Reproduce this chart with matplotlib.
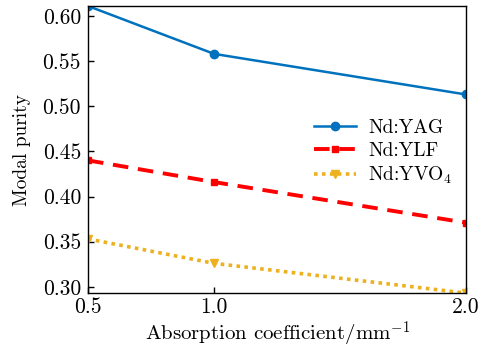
import matplotlib
matplotlib.use("Agg")
import matplotlib.pyplot as plt

# Modal purity versus absorption coefficient for three gain media
absorption = [0.5, 1.0, 2.0]
purity_yag = [0.611, 0.558, 0.513]
purity_ylf = [0.440, 0.416, 0.371]
purity_yvo4 = [0.353, 0.326, 0.293]
labels = ["Nd:YAG", "Nd:YLF", "Nd:YVO$_4$"]
x_ticks = [0.5, 1.0, 2.0]
y_ticks = [0.30, 0.35, 0.40, 0.45, 0.50, 0.55, 0.60]

plt.rcParams["font.family"] = "serif"
plt.rcParams["font.serif"] = ["cmr10"]
plt.rcParams["mathtext.fontset"] = "cm"
plt.rcParams["axes.formatter.use_mathtext"] = True

fig = plt.figure(figsize=(4.81, 3.54), dpi=100)
ax = fig.add_axes([0.183, 0.172, 0.786, 0.811])

ax.plot(absorption, purity_yag, color="#0072BD", lw=1.8, marker="o", ms=6,
        label=labels[0])
ax.plot(absorption, purity_ylf, color="#FF0000", lw=2.8, ls=(0, (4, 2.5)),
        marker="s", ms=5, label=labels[1])
ax.plot(absorption, purity_yvo4, color="#EDB120", lw=2.6, ls=(0, (1, 1.2)),
        marker="v", ms=6, label=labels[2])

ax.set_xlim(0.5, 2.0)
ax.set_ylim(0.293, 0.611)
ax.set_xticks(x_ticks)
ax.set_xticklabels(["0.5", "1.0", "2.0"])
ax.set_yticks(y_ticks)
ax.set_yticklabels([f"{v:.2f}" for v in y_ticks])
ax.tick_params(direction="in", labelsize=15.5, length=4, width=1)
ax.tick_params(axis="x", pad=3)
ax.tick_params(axis="y", pad=5)
for s in ax.spines.values():
    s.set_linewidth(1.0)

ax.set_xlabel("Absorption coefficient/mm$^{-1}$", fontsize=15, labelpad=2)
ax.set_ylabel("Modal purity", fontsize=14, labelpad=8)

ax.legend(loc="center right", bbox_to_anchor=(1.0, 0.49), frameon=False,
          fontsize=14, handlelength=2.2, labelspacing=0.25, handletextpad=0.6,
          borderaxespad=0.3)

fig.savefig("out.png", dpi=100)
